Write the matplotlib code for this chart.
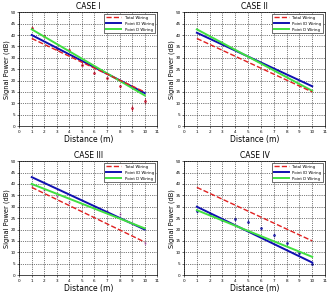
import numpy as np
from matplotlib import pyplot as plt

# distance endpoints of the fitted lines
dist = [1, 10]
labels = ["Total Wiring", "Point ID Wiring", "Point D Wiring"]
titles = ["CASE I", "CASE II", "CASE III", "CASE IV"]

# fitted lines per case: (total, point id, point d)
total_fit = [[38.5, 15.0], [38.5, 15.0], [38.5, 14.5], [38.5, 15.0]]
pid_fit = [[40.0, 14.5], [41.0, 17.5], [43.0, 20.0], [30.0, 5.5]]
pd_fit = [[42.5, 13.5], [42.5, 15.5], [40.0, 20.5], [28.5, 8.0]]

# measured points
meas_x = [1, 2, 3, 4, 5, 6, 7, 8, 9, 10]
meas_case1 = [43, 39.5, 34, 33.5, 27, 23.5, 21, 17.5, 8, 11]
err_case1 = [0.8, 0.6, 0.5, 0.8, 0.6, 0.6, 0.5, 0.6, 1.2, 1.2]
meas_case3 = [39.5, 37.5, 34.5, 32, 31, 29.5, 28, 27, 23, 14]
err_case3 = [0.4, 0.4, 0.4, 0.4, 0.6, 0.4, 0.4, 0.8, 0.4, 0.8]
meas_case4 = [28, 27, 24, 24.5, 23.5, 20.5, 17.5, 14, 9.5, 5]
err_case4 = [0.8, 0.6, 0.6, 0.8, 1.0, 0.8, 0.8, 0.6, 0.6, 0.6]

fig = plt.figure(figsize=(3.31, 2.92), dpi=100)
boxes = [[0.058, 0.568, 0.417, 0.39],
         [0.556, 0.568, 0.426, 0.39],
         [0.058, 0.058, 0.417, 0.39],
         [0.556, 0.058, 0.426, 0.39]]

for i in range(4):
    ax = fig.add_axes(boxes[i])
    if i == 0:
        ax.errorbar(meas_x, meas_case1, yerr=err_case1, fmt='.', color='#e0304a',
                    ms=2, elinewidth=0.6, capsize=0, zorder=1)
    if i == 2:
        ax.errorbar(meas_x, meas_case3, yerr=err_case3, fmt='.', color='#d070d0',
                    ms=1.5, elinewidth=0.5, capsize=0, zorder=1, alpha=0.6)
    if i == 3:
        ax.errorbar(meas_x, meas_case4, yerr=err_case4, fmt='.', color='#3030c0',
                    ms=2, elinewidth=0.6, capsize=0, zorder=1)
    ax.plot(dist, total_fit[i], '--', color='#e02020', lw=1.0, label=labels[0], zorder=3)
    ax.plot(dist, pid_fit[i], '-', color='#1010b0', lw=1.4, label=labels[1], zorder=2)
    ax.plot(dist, pd_fit[i], '-', color='#40e040', lw=1.4, label=labels[2], zorder=2)
    ax.set_xlim(0, 11)
    ax.set_ylim(0, 50)
    ax.set_xticks(range(0, 12))
    ax.set_yticks(range(0, 51, 5))
    ax.tick_params(labelsize=3, length=1.5, width=0.4, pad=1)
    ax.grid(True, linestyle=':', color='black', lw=0.5)
    for s in ax.spines.values():
        s.set_linewidth(0.5)
    ax.set_title(titles[i], fontsize=5.5, pad=2)
    ax.set_xlabel("Distance (m)", fontsize=5.5, labelpad=1)
    ax.set_ylabel("Signal Power (dB)", fontsize=4.8, labelpad=0.5)
    leg = ax.legend(loc='upper right', fontsize=2.8, handlelength=4,
                    borderpad=0.4, labelspacing=0.5, framealpha=1, fancybox=False)
    leg.get_frame().set_linewidth(0.4)
    leg.get_frame().set_edgecolor('black')

plt.savefig("out.png", dpi=100)
